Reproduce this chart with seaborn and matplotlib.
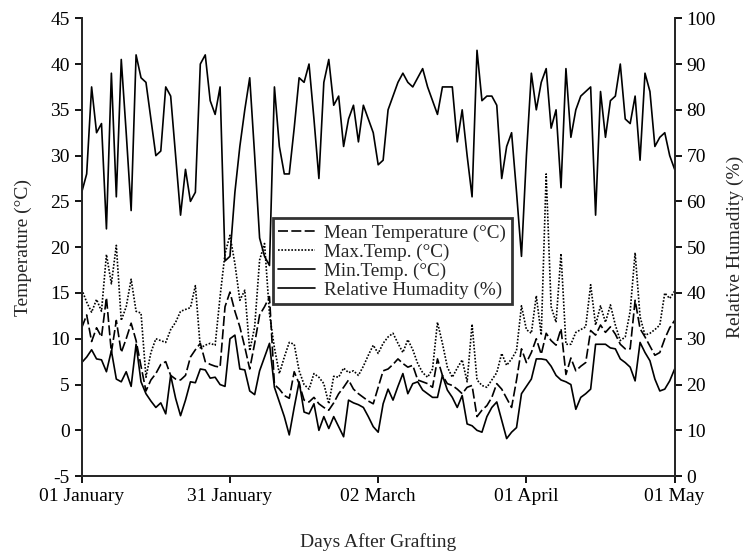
import pandas as pd
import matplotlib
matplotlib.use("Agg")
import matplotlib.pyplot as plt
import matplotlib.dates as mdates
import seaborn as sns

# daily values 01 January - 01 May
dates = pd.date_range("2021-01-01", "2021-05-01", freq="D")

mean_temp = [11.2, 12.6, 9.7, 11.2, 10.2, 14.5, 8.5, 12.0, 8.5, 10.0,
             11.7, 9.8, 7.0, 4.3, 5.5, 6.2, 7.2, 7.5, 6.0, 5.6,
             5.5, 6.0, 8.0, 8.8, 9.5, 7.5, 7.2, 7.0, 6.9, 13.5,
             15.1, 13.0, 11.3, 9.1, 6.7, 9.5, 12.6, 13.5, 14.6, 5.0,
             4.5, 3.8, 3.5, 6.4, 5.1, 3.3, 3.1, 3.6, 2.9, 2.5,
             2.2, 3.0, 4.0, 4.7, 5.5, 4.5, 4.0, 3.6, 3.2, 2.9,
             4.7, 6.5, 6.7, 7.2, 7.8, 7.3, 6.9, 7.1, 5.5, 5.3,
             5.1, 4.7, 7.8, 6.0, 5.1, 4.9, 4.5, 4.0, 4.7, 4.9,
             1.5, 2.2, 2.7, 3.6, 5.1, 4.5, 3.5, 2.5, 5.5, 8.9,
             7.4, 8.5, 10.0, 8.3, 10.6, 9.8, 9.3, 11.1, 6.1, 7.9,
             6.5, 7.0, 7.4, 10.9, 10.4, 11.5, 10.7, 11.3, 10.5, 9.4,
             8.9, 8.9, 14.2, 11.1, 10.2, 9.2, 8.2, 8.5, 10.0, 11.2,
             12.0]

max_temp = [15.4, 14.0, 12.9, 14.3, 13.0, 19.2, 16.0, 20.2, 12.0, 13.5,
            16.5, 13.0, 12.8, 5.8, 8.5, 10.0, 9.8, 9.6, 11.0, 11.8,
            13.0, 13.2, 13.4, 15.8, 9.0, 9.3, 9.5, 9.3, 14.6, 19.3,
            21.3, 18.2, 14.2, 15.3, 8.7, 11.3, 18.6, 20.4, 12.7, 9.0,
            6.2, 8.0, 9.6, 9.4, 6.5, 5.0, 4.5, 6.2, 5.8, 5.1,
            2.9, 5.9, 5.8, 6.8, 6.3, 6.5, 6.0, 7.0, 8.2, 9.3,
            8.4, 9.5, 10.2, 10.6, 9.5, 8.5, 9.9, 8.8, 7.3, 6.3,
            5.8, 6.7, 11.8, 9.5, 6.9, 5.8, 6.8, 7.7, 5.3, 11.6,
            5.5, 4.9, 4.7, 5.5, 6.3, 8.4, 7.1, 7.8, 8.7, 13.6,
            11.0, 10.6, 14.7, 10.4, 28.0, 13.5, 11.8, 19.3, 9.4, 9.4,
            10.7, 11.0, 11.3, 15.9, 11.5, 13.6, 11.8, 13.7, 11.5, 9.8,
            10.2, 13.0, 19.4, 12.4, 10.4, 10.6, 11.0, 11.5, 15.0, 14.4,
            15.2]

min_temp = [7.4, 8.0, 8.8, 7.8, 7.7, 6.4, 8.7, 5.6, 5.3, 6.4,
            4.8, 9.4, 5.3, 4.0, 3.2, 2.5, 3.0, 1.8, 6.0, 3.5,
            1.6, 3.3, 5.3, 5.2, 6.7, 6.6, 5.7, 5.8, 5.0, 4.8,
            10.0, 10.4, 6.7, 6.6, 4.3, 3.9, 6.5, 8.0, 9.5, 4.7,
            3.1, 1.5, -0.5, 2.5, 5.3, 2.0, 1.8, 2.9, 0.0, 1.5,
            0.2, 1.5, 0.4, -0.7, 3.3, 3.0, 2.8, 2.5, 1.5, 0.4,
            -0.2, 2.9, 4.5, 3.3, 4.8, 6.2, 4.0, 5.1, 5.3, 4.4,
            4.0, 3.6, 3.6, 6.0, 4.4, 3.6, 2.5, 3.8, 0.7, 0.5,
            0.0, -0.2, 1.5, 2.5, 3.1, 1.1, -0.9, -0.2, 0.3, 4.0,
            4.8, 5.6, 7.8, 7.8, 7.7, 7.0, 6.0, 5.5, 5.3, 5.0,
            2.3, 3.6, 4.0, 4.5, 9.4, 9.4, 9.4, 9.0, 8.9, 7.8,
            7.4, 6.9, 5.4, 9.6, 8.5, 7.6, 5.6, 4.3, 4.5, 5.4,
            6.7]

rel_humidity = [62, 66, 85, 75, 77, 54, 88, 61, 91, 75,
                58, 92, 87, 86, 78, 70, 71, 85, 83, 70,
                57, 67, 60, 62, 90, 92, 82, 79, 85, 47,
                48, 62, 72, 80, 87, 70, 52, 48, 46, 85,
                72, 66, 66, 76, 87, 86, 90, 78, 65, 86,
                91, 81, 83, 72, 78, 81, 73, 81, 78, 75,
                68, 69, 80, 83, 86, 88, 86, 85, 87, 89,
                85, 82, 79, 85, 85, 85, 73, 80, 70, 61,
                93, 82, 83, 83, 81, 65, 72, 75, 62, 48,
                70, 88, 80, 86, 89, 76, 80, 63, 89, 74,
                80, 83, 84, 85, 57, 84, 74, 82, 83, 90,
                78, 77, 83, 69, 88, 84, 72, 74, 75, 70,
                67]

tick_dates = pd.to_datetime(["2021-01-01", "2021-01-31", "2021-03-02",
                             "2021-04-01", "2021-05-01"])

df = pd.DataFrame({"date": dates, "mean": mean_temp, "max": max_temp,
                   "min": min_temp, "rh": rel_humidity})

sns.set_style("ticks")
plt.rcParams["font.family"] = ["Liberation Serif", "DejaVu Serif"]
plt.rcParams["font.size"] = 14
plt.rcParams["axes.unicode_minus"] = False
plt.rcParams["axes.linewidth"] = 1.3
plt.rcParams["xtick.major.width"] = 1.3
plt.rcParams["ytick.major.width"] = 1.3
plt.rcParams["xtick.major.size"] = 5
plt.rcParams["ytick.major.size"] = 5

fig, ax = plt.subplots(figsize=(7.43, 5.53), dpi=100)
fig.subplots_adjust(left=0.110, right=0.908, top=0.967, bottom=0.139)

sns.lineplot(data=df, x="date", y="mean", ax=ax, color="black", lw=1.2,
             linestyle=(0, (6, 2)), label="Mean Temperature (\u00b0C)", legend=False)
sns.lineplot(data=df, x="date", y="max", ax=ax, color="black", lw=1.2,
             linestyle=(0, (1, 1)), label="Max.Temp. (\u00b0C)", legend=False)
sns.lineplot(data=df, x="date", y="min", ax=ax, color="black", lw=1.2,
             label="Min.Temp. (\u00b0C)", legend=False)

ax2 = ax.twinx()
sns.lineplot(data=df, x="date", y="rh", ax=ax2, color="black", lw=1.2,
             label="Relative Humadity (%)", legend=False)

ax.set_ylim(-5, 45)
ax.set_yticks(range(-5, 46, 5))
ax2.set_ylim(0, 100)
ax2.set_yticks(range(0, 101, 10))
ax.set_xlim(dates[0], dates[-1])
ax.set_xticks(tick_dates)
ax.xaxis.set_major_formatter(mdates.DateFormatter("%d %B"))

ax.set_xlabel("Days After Grafting", labelpad=20)
ax.set_ylabel("Temperature (\u00b0C)", labelpad=13)
ax2.set_ylabel("Relative Humadity (%)", labelpad=8)

for a in (ax, ax2):
    a.spines["top"].set_visible(False)
    a.tick_params(colors="black", labelsize=14)

h1, l1 = ax.get_legend_handles_labels()
h2, l2 = ax2.get_legend_handles_labels()
leg = ax2.legend(h1 + h2, l1 + l2, loc="upper left", bbox_to_anchor=(0.322, 0.563),
                 borderaxespad=0, frameon=True, fancybox=False, edgecolor="black",
                 fontsize=13.8, handlelength=1.9, handletextpad=0.5, borderpad=0.3,
                 labelspacing=0.08)
leg.get_frame().set_linewidth(2)

fig.savefig("out.png", dpi=100)
